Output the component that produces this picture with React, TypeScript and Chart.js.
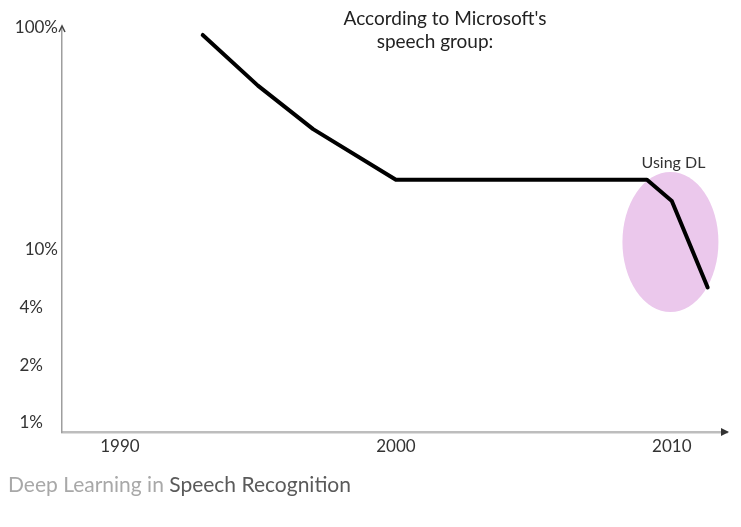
import React, { useEffect, useRef } from 'react';
import { Chart, registerables } from 'chart.js';

Chart.register(...registerables);

// ---- data ----
const years = [1993, 1995, 1997, 2000, 2009.1, 2010, 2011.3];
const wordErrorRate = [93, 55, 35, 20.7, 20.7, 16.6, 5.5]; // percent
const xTickYears = [1990, 2000, 2010];
const yTickValues = [1, 2, 4, 10, 100];
const yTickLabels = ['1%', '2%', '4%', '10%', '100%'];
// the hand-drawn y axis: equal steps between 1%, 2%, 4%, 10%, then a long step to 100%
const yAxisStops = [0, 1, 2, 3, 6.85];
const titleLines = ["According to Microsoft's", 'speech group:'];
const highlightLabel = 'Using DL';
const highlightYear = 2009.95;
const highlightRate = 10.85;
const captionLight = 'Deep Learning in ';
const captionDark = 'Speech Recognition';

const FONT = "Lato, 'Open Sans', sans-serif";

// map a percentage onto the piecewise-logarithmic hand-drawn axis
function toAxis(p: number): number {
  const n = yTickValues.length;
  for (let i = 0; i < n - 1; i++) {
    const a = yTickValues[i];
    const b = yTickValues[i + 1];
    if (p <= b || i === n - 2) {
      const t = Math.log(p / a) / Math.log(b / a);
      return yAxisStops[i] + t * (yAxisStops[i + 1] - yAxisStops[i]);
    }
  }
  return 0;
}

const decorPlugin = {
  id: 'decor',
  beforeDatasetsDraw(chart: any) {
    const { ctx, scales } = chart;
    const cx = scales.x.getPixelForValue(highlightYear);
    const cy = scales.y.getPixelForValue(toAxis(highlightRate));
    ctx.save();
    ctx.fillStyle = '#ebc8ec';
    ctx.beginPath();
    ctx.ellipse(cx, cy, 48, 70, 0, 0, Math.PI * 2);
    ctx.fill();
    ctx.restore();
  },
  afterDraw(chart: any) {
    const { ctx, scales, chartArea } = chart;
    const xs = scales.x;
    const ys = scales.y;
    ctx.save();

    // y-axis arrowhead (caret)
    ctx.strokeStyle = '#444';
    ctx.lineWidth = 1.5;
    ctx.beginPath();
    ctx.moveTo(chartArea.left - 3, chartArea.top + 4);
    ctx.lineTo(chartArea.left, chartArea.top - 2);
    ctx.lineTo(chartArea.left + 3, chartArea.top + 4);
    ctx.stroke();

    // x-axis arrowhead
    ctx.fillStyle = '#333';
    ctx.beginPath();
    ctx.moveTo(chartArea.right - 6, chartArea.bottom - 4);
    ctx.lineTo(chartArea.right + 2, chartArea.bottom);
    ctx.lineTo(chartArea.right - 6, chartArea.bottom + 4);
    ctx.closePath();
    ctx.fill();

    // y tick labels
    ctx.font = `17px ${FONT}`;
    ctx.fillStyle = '#333';
    ctx.textAlign = 'right';
    ctx.textBaseline = 'middle';
    yTickValues.forEach((v, i) => {
      const py = ys.getPixelForValue(toAxis(v));
      const right = v >= 10 ? chartArea.left - 4 : chartArea.left - 19;
      ctx.fillText(yTickLabels[i], right, py);
    });

    // title
    ctx.font = `19px ${FONT}`;
    ctx.fillStyle = '#222';
    ctx.textAlign = 'center';
    ctx.textBaseline = 'alphabetic';
    ctx.fillText(titleLines[0], 445, 25);
    ctx.fillText(titleLines[1], 435, 48);

    // highlight label
    const cx = xs.getPixelForValue(highlightYear);
    const cy = ys.getPixelForValue(toAxis(highlightRate));
    ctx.font = `16px ${FONT}`;
    ctx.fillStyle = '#333';
    ctx.fillText(highlightLabel, cx + 3, cy - 74);

    // caption
    ctx.font = `21px ${FONT}`;
    ctx.textAlign = 'left';
    ctx.fillStyle = '#a8a8a8';
    ctx.fillText(captionLight, 8, 492);
    const w = ctx.measureText(captionLight).width;
    ctx.fillStyle = '#5a5a5a';
    ctx.fillText(captionDark, 8 + w, 492);

    ctx.restore();
  },
};

export default function App() {
  const ref = useRef<HTMLCanvasElement | null>(null);

  useEffect(() => {
    if (!ref.current) return;
    const chart = new Chart(ref.current, {
      type: 'line',
      data: {
        datasets: [
          {
            data: years.map((yr, i) => ({ x: yr, y: toAxis(wordErrorRate[i]) })),
            borderColor: '#000',
            borderWidth: 4,
            pointRadius: 0,
            tension: 0,
            fill: false,
            borderJoinStyle: 'round',
            borderCapStyle: 'round',
            clip: false,
          } as any,
        ],
      },
      options: {
        animation: false,
        responsive: false,
        devicePixelRatio: 1,
        layout: { padding: { top: 28, right: 14, left: 0, bottom: 0 } },
        plugins: { legend: { display: false }, tooltip: { enabled: false } },
        scales: {
          x: {
            type: 'linear',
            min: 1987.9,
            max: 2012,
            afterBuildTicks: (s: any) => {
              s.ticks = xTickYears.map((v) => ({ value: v }));
            },
            afterFit: (s: any) => {
              s.height = 95;
            },
            ticks: {
              callback: (v: any) => String(v),
              font: { family: FONT, size: 17 },
              color: '#333',
              padding: 4,
              maxRotation: 0,
              autoSkip: false,
            },
            grid: { display: false, drawTicks: false },
            border: { display: true, color: '#bdbdbd', width: 2.5 },
          },
          y: {
            type: 'linear',
            min: -0.16,
            max: yAxisStops[yAxisStops.length - 1],
            afterFit: (s: any) => {
              s.width = 62;
            },
            ticks: { display: false },
            grid: { display: false, drawTicks: false },
            border: { display: true, color: '#9e9e9e', width: 1.5 },
          },
        },
      } as any,
      plugins: [decorPlugin],
    });
    return () => chart.destroy();
  }, []);

  return (
    <div style={{ position: 'absolute', left: 0, top: 0, width: 741, height: 527, background: '#fff' }}>
      <canvas ref={ref} width={741} height={527} />
    </div>
  );
}
